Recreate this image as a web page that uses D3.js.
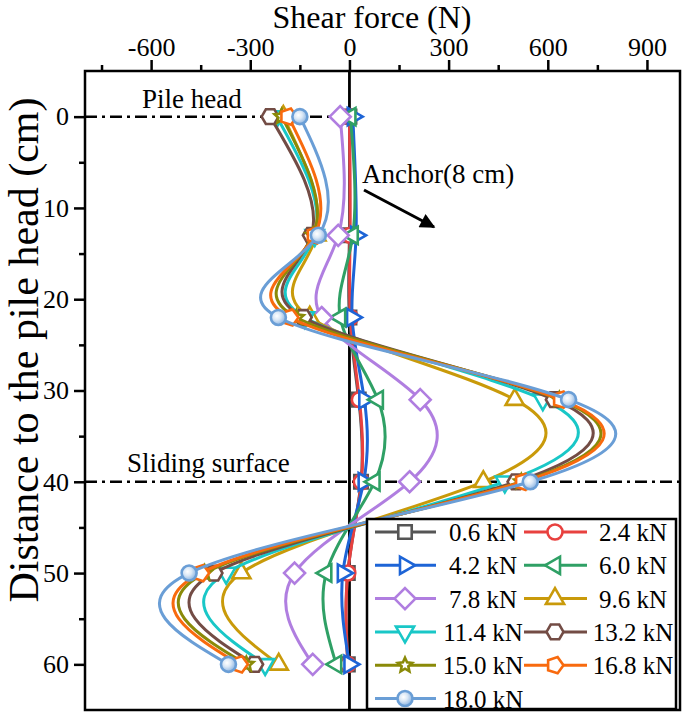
<!DOCTYPE html>
<html><head><meta charset="utf-8">
<script src="https://cdn.jsdelivr.net/npm/d3@7"></script>
<style>
html,body{margin:0;padding:0;background:#fff;}
</style></head>
<body><svg id="chart" width="685" height="713"></svg>
<script>
// ---------- data ----------
const depths = [0, 13, 22, 31, 40, 50, 60];
const loadLabels = ["0.6 kN","2.4 kN","4.2 kN","6.0 kN","7.8 kN","9.6 kN","11.4 kN","13.2 kN","15.0 kN","16.8 kN","18.0 kN"];
const shear_0_6  = [0, 0, 0, 28, 35, -5, -5];
const shear_2_4  = [0, 2, 3, 30, 36, -5, -5];
const shear_4_2  = [10, 20, 8, 45, 43, -20, 0];
const shear_6_0  = [3, 10, -28, 86, 76, -70, -40];
const shear_7_8  = [-28, -34, -84, 214, 182, -166, -111];
const shear_9_6  = [-200, -100, -120, 500, 405, -327, -214];
const shear_11_4 = [-220, -105, -135, 585, 470, -373, -255];
const shear_13_2 = [-240, -115, -140, 620, 504, -410, -287];
const shear_15_0 = [-205, -110, -160, 635, 520, -438, -312];
const shear_16_8 = [-185, -105, -180, 640, 525, -450, -333];
const shear_18_0 = [-150, -94, -215, 663, 547, -485, -366];
const xMajorTicks = [-600, -300, 0, 300, 600, 900];
const xMinorTicks = [-750, -450, -150, 150, 450, 750];
const yMajorTicks = [0, 10, 20, 30, 40, 50, 60];
const yMinorTicks = [5, 15, 25, 35, 45, 55];
const colors = ["#555555","#E8413F","#1D64D6","#2FA065","#B07EE0","#C99A0A","#19C7C7","#734C45","#8A8A08","#F86A0E","#6A9ED6"];
const shapes = ["square","circle","right","left","diamond","up","down","hexagon","star","pentagon","ball"];

const seriesValues = [shear_0_6, shear_2_4, shear_4_2, shear_6_0, shear_7_8, shear_9_6, shear_11_4, shear_13_2, shear_15_0, shear_16_8, shear_18_0];
const series = loadLabels.map((lab, i) => ({
  label: lab, color: colors[i], shape: shapes[i],
  pts: depths.map((d, j) => ({depth: d, v: seriesValues[i][j]}))
}));

const FONT = "'Liberation Serif'";

// ---------- layout ----------
const svg = d3.select("#chart");
const x = d3.scaleLinear().domain([-800, 1000]).range([85, 680]);
const y = d3.scaleLinear().domain([-5, 65]).range([71, 710]);

const defs = svg.append("defs");
const grad = defs.append("radialGradient").attr("id","ballGrad").attr("cx","40%").attr("cy","40%").attr("r","60%");
grad.append("stop").attr("offset","0%").attr("stop-color","#ffffff");
grad.append("stop").attr("offset","45%").attr("stop-color","#dbe8f6");
grad.append("stop").attr("offset","100%").attr("stop-color","#8db5e2");

function poly(n, r, rotDeg) {
  const pts = [];
  for (let k = 0; k < n; k++) {
    const a = (rotDeg + k * 360 / n) * Math.PI / 180;
    pts.push([r * Math.cos(a), r * Math.sin(a)]);
  }
  return "M" + pts.map(p => p[0].toFixed(2) + "," + p[1].toFixed(2)).join("L") + "Z";
}
function starPath(ro, ri) {
  const pts = [];
  for (let k = 0; k < 10; k++) {
    const r = k % 2 ? ri : ro;
    const a = (-90 + k * 36) * Math.PI / 180;
    pts.push([r * Math.cos(a), r * Math.sin(a)]);
  }
  return "M" + pts.map(p => p[0].toFixed(2) + "," + p[1].toFixed(2)).join("L") + "Z";
}
function drawMarker(g, shape, color) {
  let el;
  switch (shape) {
    case "square": el = g.append("path").attr("d", poly(4, 9.5, 45)); break;
    case "circle": el = g.append("circle").attr("r", 7.5); break;
    case "ball": el = g.append("circle").attr("r", 7.5); break;
    case "right": el = g.append("path").attr("d", poly(3, 10, 0)); break;
    case "left": el = g.append("path").attr("d", poly(3, 10, 180)); break;
    case "up": el = g.append("path").attr("d", poly(3, 10.5, -90)); break;
    case "down": el = g.append("path").attr("d", poly(3, 10.5, 90)); break;
    case "diamond": el = g.append("path").attr("d", poly(4, 10.5, -90)); break;
    case "hexagon": el = g.append("path").attr("d", poly(6, 8.5, 0)); break;
    case "pentagon": el = g.append("path").attr("d", poly(5, 8.5, 0)); break;
    case "star": el = g.append("path").attr("d", starPath(7.5, 3.5)); break;
  }
  el.attr("stroke", color).attr("stroke-width", 2.6)
    .attr("fill", shape === "ball" ? "url(#ballGrad)" : "#ffffff")
    .attr("stroke-linejoin", "miter");
}
function addText(sel, size) {
  return sel.style("font-family", FONT).style("font-size", size + "px").attr("fill", "#000");
}

// ---------- axes ----------
const fmt = d => String(d);
const topAxis = svg.append("g").attr("transform", `translate(0,${y(-5)})`)
  .call(d3.axisTop(x).tickValues(xMajorTicks).tickSize(11).tickPadding(4).tickFormat(fmt));
topAxis.select(".domain").remove();
topAxis.selectAll(".tick line").attr("stroke-width", 2.5);
addText(topAxis.selectAll(".tick text"), 26);
const topMinor = svg.append("g").attr("transform", `translate(0,${y(-5)})`)
  .call(d3.axisTop(x).tickValues(xMinorTicks).tickSize(6).tickFormat(""));
topMinor.select(".domain").remove();
topMinor.selectAll(".tick line").attr("stroke-width", 2.5);

const leftAxis = svg.append("g").attr("transform", `translate(${x(-800)},0)`)
  .call(d3.axisLeft(y).tickValues(yMajorTicks).tickSize(11).tickPadding(5).tickFormat(fmt));
leftAxis.select(".domain").remove();
leftAxis.selectAll(".tick line").attr("stroke-width", 2.5);
addText(leftAxis.selectAll(".tick text"), 26);
const leftMinor = svg.append("g").attr("transform", `translate(${x(-800)},0)`)
  .call(d3.axisLeft(y).tickValues(yMinorTicks).tickSize(6).tickFormat(""));
leftMinor.select(".domain").remove();
leftMinor.selectAll(".tick line").attr("stroke-width", 2.5);

// frame
svg.append("rect").attr("x", x(-800)).attr("y", y(-5))
  .attr("width", x(1000) - x(-800)).attr("height", y(65) - y(-5))
  .attr("fill", "none").attr("stroke", "#000").attr("stroke-width", 2.5);

// axis titles
addText(svg.append("text"), 32).attr("x", 372).attr("y", 28).attr("text-anchor", "middle")
  .text("Shear force (N)");
addText(svg.append("text"), 42).attr("transform", "translate(38,350) rotate(-90)").attr("text-anchor", "middle")
  .text("Distance to the pile head (cm)");

// reference lines
svg.append("line").attr("x1", x(-800)).attr("x2", x(0)).attr("y1", y(0)).attr("y2", y(0))
  .attr("stroke", "#000").attr("stroke-width", 2.5).attr("stroke-dasharray", "12,5,3,5");
svg.append("line").attr("x1", x(-800)).attr("x2", x(1000)).attr("y1", y(40)).attr("y2", y(40))
  .attr("stroke", "#000").attr("stroke-width", 2.5).attr("stroke-dasharray", "12,5,3,5");

// vertical zero line
svg.append("line").attr("x1", x(0)).attr("x2", x(0)).attr("y1", y(-5)).attr("y2", y(65))
  .attr("stroke", "#000").attr("stroke-width", 2.8);

// annotations
addText(svg.append("text"), 27).attr("x", 142).attr("y", 108).text("Pile head");
addText(svg.append("text"), 27).attr("x", 127).attr("y", 472).text("Sliding surface");
addText(svg.append("text"), 27).attr("x", 362).attr("y", 183).text("Anchor(8 cm)");
defs.append("marker").attr("id", "arrowHead").attr("viewBox", "0 0 10 10").attr("refX", 9).attr("refY", 5)
  .attr("markerWidth", 7).attr("markerHeight", 5).attr("markerUnits", "strokeWidth").attr("orient", "auto")
  .append("path").attr("d", "M0,0L10,5L0,10Z").attr("fill", "#000");
svg.append("line").attr("x1", 364).attr("y1", 190).attr("x2", 434).attr("y2", 227)
  .attr("stroke", "#000").attr("stroke-width", 3).attr("marker-end", "url(#arrowHead)");

// ---------- series ----------
const line = d3.line().x(d => x(d.v)).y(d => y(d.depth)).curve(d3.curveNatural);
const plot = svg.append("g");
series.forEach(s => {
  const g = plot.append("g");
  g.append("path").attr("d", line(s.pts)).attr("fill", "none").attr("stroke", s.color)
    .attr("stroke-width", 3).attr("stroke-linejoin", "round");
  s.pts.forEach(p => {
    const mg = g.append("g").attr("transform", `translate(${x(p.v)},${y(p.depth)})`);
    drawMarker(mg, s.shape, s.color);
  });
});

// ---------- legend ----------
const lg = svg.append("g");
lg.append("rect").attr("x", 367).attr("y", 519).attr("width", 309).attr("height", 190)
  .attr("fill", "#fff").attr("stroke", "#000").attr("stroke-width", 2.5);
const colLine = [[375, 436, 405, 483], [524, 587, 555, 633]];
series.forEach((s, i) => {
  const row = Math.floor(i / 2), col = i % 2;
  const cy = 532 + row * 33.3;
  const c = colLine[col];
  lg.append("line").attr("x1", c[0]).attr("x2", c[1]).attr("y1", cy).attr("y2", cy)
    .attr("stroke", s.color).attr("stroke-width", 3);
  const mg = lg.append("g").attr("transform", `translate(${c[2]},${cy})`);
  drawMarker(mg, s.shape, s.color);
  addText(lg.append("text"), 25).attr("x", c[3]).attr("y", cy + 9).attr("text-anchor", "middle")
    .text(s.label);
});
</script></body></html>
